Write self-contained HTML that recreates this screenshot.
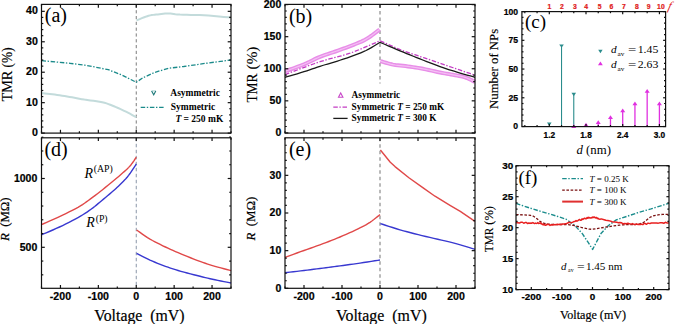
<!DOCTYPE html>
<html><head><meta charset="utf-8"><title>figure</title>
<style>html,body{margin:0;padding:0;background:#fff;width:675px;height:324px;overflow:hidden}svg{display:block}</style>
</head><body>
<svg width="675" height="324" viewBox="0 0 675 324">
<rect width="675" height="324" fill="#fff"/>
<line x1="136.25" y1="4.4" x2="136.25" y2="133.1" stroke="#7c7c7c" stroke-width="1" stroke-dasharray="3.2 2.6"/>
<polyline points="41.5,93.2 42.93,93.34 44.89,93.53 47.23,93.76 49.76,94.01 52.34,94.3 54.8,94.6 57.18,94.93 59.62,95.29 62.11,95.67 64.61,96.07 67.12,96.48 69.6,96.9 72.03,97.33 74.42,97.77 76.81,98.23 79.24,98.69 81.76,99.15 84.4,99.6 87.26,100.02 90.33,100.42 93.49,100.81 96.6,101.23 99.55,101.68 102.2,102.2 104.51,102.78 106.57,103.41 108.46,104.07 110.27,104.78 112.09,105.52 114,106.3 116.01,107.12 118.05,108 120.09,108.91 122.12,109.84 124.1,110.78 126,111.7 127.93,112.67 129.94,113.73 131.9,114.79 133.69,115.77 135.2,116.6 136.3,117.2" fill="none" stroke="#c3dbdb" stroke-width="2.0" stroke-linejoin="round" />
<polyline points="136.5,20.4 137.84,19.86 139.71,19.09 141.92,18.19 144.26,17.27 146.52,16.43 148.5,15.8 150.19,15.38 151.73,15.08 153.21,14.88 154.67,14.72 156.18,14.57 157.8,14.4 159.55,14.18 161.37,13.96 163.24,13.74 165.13,13.56 167.03,13.43 168.9,13.4 170.6,13.48 172.12,13.66 173.64,13.89 175.34,14.16 177.4,14.4 180,14.6 183.22,14.73 186.93,14.81 191.01,14.88 195.3,14.97 199.68,15.1 204,15.3 208.64,15.62 213.78,16.03 219,16.49 223.89,16.94 228.03,17.33 231,17.6" fill="none" stroke="#c3dbdb" stroke-width="2.0" stroke-linejoin="round" />
<polyline points="41.5,60.6 56,62 70,63.3 85,65.2 96.3,67.3 108.3,69.7 121.7,75 129.7,79 136.3,82.3 143,77.7 155,72.3 168.3,68.3 183.7,66.5 205,63.4 231,60" fill="none" stroke="#1a8a8a" stroke-width="1.3" stroke-dasharray="4.5 1.6 1.4 1.7" stroke-linejoin="round" />
<rect x="41.5" y="4.4" width="189.5" height="128.7" fill="none" stroke="#111" stroke-width="1.2"/>
<line x1="41.5" y1="133.1" x2="44.8" y2="133.1" stroke="#111" stroke-width="1.2" />
<line x1="231" y1="133.1" x2="227.7" y2="133.1" stroke="#111" stroke-width="1.2" />
<line x1="41.5" y1="102.66" x2="44.8" y2="102.66" stroke="#111" stroke-width="1.2" />
<line x1="231" y1="102.66" x2="227.7" y2="102.66" stroke="#111" stroke-width="1.2" />
<line x1="41.5" y1="72.22" x2="44.8" y2="72.22" stroke="#111" stroke-width="1.2" />
<line x1="231" y1="72.22" x2="227.7" y2="72.22" stroke="#111" stroke-width="1.2" />
<line x1="41.5" y1="41.78" x2="44.8" y2="41.78" stroke="#111" stroke-width="1.2" />
<line x1="231" y1="41.78" x2="227.7" y2="41.78" stroke="#111" stroke-width="1.2" />
<line x1="41.5" y1="11.34" x2="44.8" y2="11.34" stroke="#111" stroke-width="1.2" />
<line x1="231" y1="11.34" x2="227.7" y2="11.34" stroke="#111" stroke-width="1.2" />
<line x1="41.5" y1="127.01" x2="43.3" y2="127.01" stroke="#111" stroke-width="1.2" />
<line x1="231" y1="127.01" x2="229.2" y2="127.01" stroke="#111" stroke-width="1.2" />
<line x1="41.5" y1="120.92" x2="43.3" y2="120.92" stroke="#111" stroke-width="1.2" />
<line x1="231" y1="120.92" x2="229.2" y2="120.92" stroke="#111" stroke-width="1.2" />
<line x1="41.5" y1="114.84" x2="43.3" y2="114.84" stroke="#111" stroke-width="1.2" />
<line x1="231" y1="114.84" x2="229.2" y2="114.84" stroke="#111" stroke-width="1.2" />
<line x1="41.5" y1="108.75" x2="43.3" y2="108.75" stroke="#111" stroke-width="1.2" />
<line x1="231" y1="108.75" x2="229.2" y2="108.75" stroke="#111" stroke-width="1.2" />
<line x1="41.5" y1="96.57" x2="43.3" y2="96.57" stroke="#111" stroke-width="1.2" />
<line x1="231" y1="96.57" x2="229.2" y2="96.57" stroke="#111" stroke-width="1.2" />
<line x1="41.5" y1="90.48" x2="43.3" y2="90.48" stroke="#111" stroke-width="1.2" />
<line x1="231" y1="90.48" x2="229.2" y2="90.48" stroke="#111" stroke-width="1.2" />
<line x1="41.5" y1="84.4" x2="43.3" y2="84.4" stroke="#111" stroke-width="1.2" />
<line x1="231" y1="84.4" x2="229.2" y2="84.4" stroke="#111" stroke-width="1.2" />
<line x1="41.5" y1="78.31" x2="43.3" y2="78.31" stroke="#111" stroke-width="1.2" />
<line x1="231" y1="78.31" x2="229.2" y2="78.31" stroke="#111" stroke-width="1.2" />
<line x1="41.5" y1="66.13" x2="43.3" y2="66.13" stroke="#111" stroke-width="1.2" />
<line x1="231" y1="66.13" x2="229.2" y2="66.13" stroke="#111" stroke-width="1.2" />
<line x1="41.5" y1="60.04" x2="43.3" y2="60.04" stroke="#111" stroke-width="1.2" />
<line x1="231" y1="60.04" x2="229.2" y2="60.04" stroke="#111" stroke-width="1.2" />
<line x1="41.5" y1="53.96" x2="43.3" y2="53.96" stroke="#111" stroke-width="1.2" />
<line x1="231" y1="53.96" x2="229.2" y2="53.96" stroke="#111" stroke-width="1.2" />
<line x1="41.5" y1="47.87" x2="43.3" y2="47.87" stroke="#111" stroke-width="1.2" />
<line x1="231" y1="47.87" x2="229.2" y2="47.87" stroke="#111" stroke-width="1.2" />
<line x1="41.5" y1="35.69" x2="43.3" y2="35.69" stroke="#111" stroke-width="1.2" />
<line x1="231" y1="35.69" x2="229.2" y2="35.69" stroke="#111" stroke-width="1.2" />
<line x1="41.5" y1="29.6" x2="43.3" y2="29.6" stroke="#111" stroke-width="1.2" />
<line x1="231" y1="29.6" x2="229.2" y2="29.6" stroke="#111" stroke-width="1.2" />
<line x1="41.5" y1="23.52" x2="43.3" y2="23.52" stroke="#111" stroke-width="1.2" />
<line x1="231" y1="23.52" x2="229.2" y2="23.52" stroke="#111" stroke-width="1.2" />
<line x1="41.5" y1="17.43" x2="43.3" y2="17.43" stroke="#111" stroke-width="1.2" />
<line x1="231" y1="17.43" x2="229.2" y2="17.43" stroke="#111" stroke-width="1.2" />
<line x1="60.45" y1="133.1" x2="60.45" y2="129.8" stroke="#111" stroke-width="1.2" />
<line x1="60.45" y1="4.4" x2="60.45" y2="7.7" stroke="#111" stroke-width="1.2" />
<line x1="98.35" y1="133.1" x2="98.35" y2="129.8" stroke="#111" stroke-width="1.2" />
<line x1="98.35" y1="4.4" x2="98.35" y2="7.7" stroke="#111" stroke-width="1.2" />
<line x1="136.25" y1="133.1" x2="136.25" y2="129.8" stroke="#111" stroke-width="1.2" />
<line x1="136.25" y1="4.4" x2="136.25" y2="7.7" stroke="#111" stroke-width="1.2" />
<line x1="174.15" y1="133.1" x2="174.15" y2="129.8" stroke="#111" stroke-width="1.2" />
<line x1="174.15" y1="4.4" x2="174.15" y2="7.7" stroke="#111" stroke-width="1.2" />
<line x1="212.05" y1="133.1" x2="212.05" y2="129.8" stroke="#111" stroke-width="1.2" />
<line x1="212.05" y1="4.4" x2="212.05" y2="7.7" stroke="#111" stroke-width="1.2" />
<line x1="41.5" y1="133.1" x2="41.5" y2="131.2" stroke="#111" stroke-width="1.2" />
<line x1="41.5" y1="4.4" x2="41.5" y2="6.3" stroke="#111" stroke-width="1.2" />
<line x1="79.4" y1="133.1" x2="79.4" y2="131.2" stroke="#111" stroke-width="1.2" />
<line x1="79.4" y1="4.4" x2="79.4" y2="6.3" stroke="#111" stroke-width="1.2" />
<line x1="117.3" y1="133.1" x2="117.3" y2="131.2" stroke="#111" stroke-width="1.2" />
<line x1="117.3" y1="4.4" x2="117.3" y2="6.3" stroke="#111" stroke-width="1.2" />
<line x1="155.2" y1="133.1" x2="155.2" y2="131.2" stroke="#111" stroke-width="1.2" />
<line x1="155.2" y1="4.4" x2="155.2" y2="6.3" stroke="#111" stroke-width="1.2" />
<line x1="193.1" y1="133.1" x2="193.1" y2="131.2" stroke="#111" stroke-width="1.2" />
<line x1="193.1" y1="4.4" x2="193.1" y2="6.3" stroke="#111" stroke-width="1.2" />
<line x1="231" y1="133.1" x2="231" y2="131.2" stroke="#111" stroke-width="1.2" />
<line x1="231" y1="4.4" x2="231" y2="6.3" stroke="#111" stroke-width="1.2" />
<text x="37.8" y="136.2" font-family='"Liberation Sans", sans-serif' font-size="10.6" font-weight="bold" font-style="normal" text-anchor="end" fill="#000" stroke="#000" stroke-width="0.22">0</text>
<text x="37.8" y="105.76" font-family='"Liberation Sans", sans-serif' font-size="10.6" font-weight="bold" font-style="normal" text-anchor="end" fill="#000" stroke="#000" stroke-width="0.22">10</text>
<text x="37.8" y="75.32" font-family='"Liberation Sans", sans-serif' font-size="10.6" font-weight="bold" font-style="normal" text-anchor="end" fill="#000" stroke="#000" stroke-width="0.22">20</text>
<text x="37.8" y="44.88" font-family='"Liberation Sans", sans-serif' font-size="10.6" font-weight="bold" font-style="normal" text-anchor="end" fill="#000" stroke="#000" stroke-width="0.22">30</text>
<text x="37.8" y="14.44" font-family='"Liberation Sans", sans-serif' font-size="10.6" font-weight="bold" font-style="normal" text-anchor="end" fill="#000" stroke="#000" stroke-width="0.22">40</text>
<text x="44.8" y="21.6" font-family='"Liberation Serif", serif' font-size="20" font-weight="normal" font-style="normal" text-anchor="start" fill="#000" >(a)</text>
<text x="0" y="0" transform="translate(11.5,101.6) rotate(-90)" font-family='"Liberation Serif", serif' font-size="14.4" font-weight="normal" textLength="31.0" lengthAdjust="spacingAndGlyphs" fill="#000" stroke="#000" stroke-width="0.15">TMR</text>
<text x="0" y="0" transform="translate(11.5,67.4) rotate(-90)" font-family='"Liberation Serif", serif' font-size="14.4" font-weight="normal" textLength="20.0" lengthAdjust="spacingAndGlyphs" fill="#000" stroke="#000" stroke-width="0.15">(%)</text>
<path d="M151.6,90.9 L155.8,90.9" fill="none" stroke="#8cc4c4" stroke-width="0.8"/>
<path d="M151.6,90.9 L153.7,94.8 L155.8,90.9" fill="none" stroke="#1f7a7a" stroke-width="1.1"/>
<text x="170.3" y="95.8" font-family='"Liberation Serif", serif' font-size="9.5" font-weight="bold" font-style="normal" text-anchor="start" fill="#000" >Asymmetric</text>
<polyline points="140.7,107.4 163.6,107.4" fill="none" stroke="#1a8a8a" stroke-width="1.3" stroke-dasharray="4.5 1.6 1.4 1.7" stroke-linejoin="round" />
<text x="170.8" y="109.7" font-family='"Liberation Serif", serif' font-size="9.5" font-weight="bold" font-style="normal" text-anchor="start" fill="#000" >Symmetric</text>
<text x="175.4" y="121.6" font-family='"Liberation Serif", serif' font-size="9.5" font-weight="bold" fill="#000"><tspan font-style="italic">T</tspan> = 250 mK</text>
<line x1="136.25" y1="137.8" x2="136.25" y2="288.3" stroke="#8a96a8" stroke-width="1" stroke-dasharray="3.5 2.5"/>
<polyline points="41.5,224.6 43.45,223.74 46.15,222.57 49.34,221.18 52.8,219.66 56.26,218.1 59.5,216.6 62.62,215.11 65.85,213.56 69.09,211.97 72.26,210.38 75.26,208.81 78,207.3 80.4,205.88 82.52,204.55 84.48,203.24 86.38,201.9 88.35,200.47 90.5,198.9 92.84,197.18 95.27,195.35 97.76,193.43 100.3,191.45 102.85,189.43 105.4,187.4 108.02,185.28 110.76,183.04 113.51,180.76 116.19,178.53 118.68,176.41 120.9,174.5 122.82,172.83 124.51,171.35 126.03,169.99 127.41,168.69 128.72,167.38 130,166 131.28,164.45 132.54,162.76 133.72,161.07 134.77,159.49 135.65,158.16 136.3,157.2" fill="none" stroke="#e04848" stroke-width="1.4" stroke-linejoin="round" />
<polyline points="41.5,234.8 43.45,233.97 46.15,232.84 49.34,231.49 52.8,230.01 56.26,228.48 59.5,227 62.62,225.51 65.83,223.94 69.06,222.33 72.22,220.71 75.23,219.12 78,217.6 80.51,216.16 82.83,214.76 84.99,213.4 87.05,212.05 89.04,210.69 91,209.3 92.9,207.9 94.68,206.5 96.39,205.09 98.09,203.66 99.81,202.2 101.6,200.7 103.51,199.12 105.5,197.46 107.53,195.76 109.51,194.09 111.39,192.48 113.1,191 114.62,189.67 115.98,188.46 117.24,187.32 118.44,186.2 119.65,185.04 120.9,183.8 122.19,182.5 123.47,181.2 124.76,179.86 126.04,178.47 127.32,176.99 128.6,175.4 129.97,173.54 131.45,171.4 132.93,169.17 134.3,167.07 135.46,165.28 136.3,164" fill="none" stroke="#3838d0" stroke-width="1.4" stroke-linejoin="round" />
<polyline points="136.6,230 138.03,231 140,232.4 142.34,234.06 144.89,235.82 147.5,237.55 150,239.1 152.45,240.5 154.98,241.86 157.57,243.19 160.19,244.49 162.8,245.76 165.4,247 167.94,248.2 170.43,249.35 172.92,250.47 175.46,251.59 178.11,252.73 180.9,253.9 183.92,255.15 187.15,256.45 190.48,257.77 193.8,259.07 197.01,260.29 200,261.4 202.73,262.37 205.27,263.25 207.69,264.05 210.08,264.81 212.49,265.55 215,266.3 217.79,267.1 220.85,267.94 223.94,268.76 226.81,269.51 229.25,270.14 231,270.6" fill="none" stroke="#e04848" stroke-width="1.4" stroke-linejoin="round" />
<polyline points="136.6,253.3 138.03,254.05 140,255.09 142.34,256.31 144.89,257.63 147.5,258.92 150,260.1 152.45,261.18 154.98,262.26 157.57,263.31 160.19,264.34 162.8,265.34 165.4,266.3 167.94,267.2 170.43,268.06 172.92,268.88 175.46,269.68 178.11,270.48 180.9,271.3 183.92,272.15 187.15,273.02 190.48,273.89 193.8,274.74 197.01,275.55 200,276.3 202.73,276.97 205.27,277.59 207.69,278.16 210.08,278.71 212.49,279.25 215,279.8 217.79,280.39 220.85,281.01 223.94,281.62 226.81,282.18 229.25,282.66 231,283" fill="none" stroke="#3838d0" stroke-width="1.4" stroke-linejoin="round" />
<rect x="41.5" y="137.8" width="189.5" height="150.5" fill="none" stroke="#111" stroke-width="1.2"/>
<line x1="41.5" y1="247.3" x2="44.8" y2="247.3" stroke="#111" stroke-width="1.2" />
<line x1="231" y1="247.3" x2="227.7" y2="247.3" stroke="#111" stroke-width="1.2" />
<line x1="41.5" y1="178.5" x2="44.8" y2="178.5" stroke="#111" stroke-width="1.2" />
<line x1="231" y1="178.5" x2="227.7" y2="178.5" stroke="#111" stroke-width="1.2" />
<line x1="41.5" y1="274.82" x2="43.3" y2="274.82" stroke="#111" stroke-width="1.2" />
<line x1="231" y1="274.82" x2="229.2" y2="274.82" stroke="#111" stroke-width="1.2" />
<line x1="41.5" y1="261.06" x2="43.3" y2="261.06" stroke="#111" stroke-width="1.2" />
<line x1="231" y1="261.06" x2="229.2" y2="261.06" stroke="#111" stroke-width="1.2" />
<line x1="41.5" y1="233.54" x2="43.3" y2="233.54" stroke="#111" stroke-width="1.2" />
<line x1="231" y1="233.54" x2="229.2" y2="233.54" stroke="#111" stroke-width="1.2" />
<line x1="41.5" y1="219.78" x2="43.3" y2="219.78" stroke="#111" stroke-width="1.2" />
<line x1="231" y1="219.78" x2="229.2" y2="219.78" stroke="#111" stroke-width="1.2" />
<line x1="41.5" y1="206.02" x2="43.3" y2="206.02" stroke="#111" stroke-width="1.2" />
<line x1="231" y1="206.02" x2="229.2" y2="206.02" stroke="#111" stroke-width="1.2" />
<line x1="41.5" y1="192.26" x2="43.3" y2="192.26" stroke="#111" stroke-width="1.2" />
<line x1="231" y1="192.26" x2="229.2" y2="192.26" stroke="#111" stroke-width="1.2" />
<line x1="41.5" y1="164.74" x2="43.3" y2="164.74" stroke="#111" stroke-width="1.2" />
<line x1="231" y1="164.74" x2="229.2" y2="164.74" stroke="#111" stroke-width="1.2" />
<line x1="41.5" y1="150.98" x2="43.3" y2="150.98" stroke="#111" stroke-width="1.2" />
<line x1="231" y1="150.98" x2="229.2" y2="150.98" stroke="#111" stroke-width="1.2" />
<line x1="41.5" y1="137.22" x2="43.3" y2="137.22" stroke="#111" stroke-width="1.2" />
<line x1="231" y1="137.22" x2="229.2" y2="137.22" stroke="#111" stroke-width="1.2" />
<line x1="60.45" y1="288.3" x2="60.45" y2="285" stroke="#111" stroke-width="1.2" />
<line x1="60.45" y1="137.8" x2="60.45" y2="141.1" stroke="#111" stroke-width="1.2" />
<line x1="98.35" y1="288.3" x2="98.35" y2="285" stroke="#111" stroke-width="1.2" />
<line x1="98.35" y1="137.8" x2="98.35" y2="141.1" stroke="#111" stroke-width="1.2" />
<line x1="136.25" y1="288.3" x2="136.25" y2="285" stroke="#111" stroke-width="1.2" />
<line x1="136.25" y1="137.8" x2="136.25" y2="141.1" stroke="#111" stroke-width="1.2" />
<line x1="174.15" y1="288.3" x2="174.15" y2="285" stroke="#111" stroke-width="1.2" />
<line x1="174.15" y1="137.8" x2="174.15" y2="141.1" stroke="#111" stroke-width="1.2" />
<line x1="212.05" y1="288.3" x2="212.05" y2="285" stroke="#111" stroke-width="1.2" />
<line x1="212.05" y1="137.8" x2="212.05" y2="141.1" stroke="#111" stroke-width="1.2" />
<line x1="41.5" y1="288.3" x2="41.5" y2="286.4" stroke="#111" stroke-width="1.2" />
<line x1="41.5" y1="137.8" x2="41.5" y2="139.7" stroke="#111" stroke-width="1.2" />
<line x1="79.4" y1="288.3" x2="79.4" y2="286.4" stroke="#111" stroke-width="1.2" />
<line x1="79.4" y1="137.8" x2="79.4" y2="139.7" stroke="#111" stroke-width="1.2" />
<line x1="117.3" y1="288.3" x2="117.3" y2="286.4" stroke="#111" stroke-width="1.2" />
<line x1="117.3" y1="137.8" x2="117.3" y2="139.7" stroke="#111" stroke-width="1.2" />
<line x1="155.2" y1="288.3" x2="155.2" y2="286.4" stroke="#111" stroke-width="1.2" />
<line x1="155.2" y1="137.8" x2="155.2" y2="139.7" stroke="#111" stroke-width="1.2" />
<line x1="193.1" y1="288.3" x2="193.1" y2="286.4" stroke="#111" stroke-width="1.2" />
<line x1="193.1" y1="137.8" x2="193.1" y2="139.7" stroke="#111" stroke-width="1.2" />
<line x1="231" y1="288.3" x2="231" y2="286.4" stroke="#111" stroke-width="1.2" />
<line x1="231" y1="137.8" x2="231" y2="139.7" stroke="#111" stroke-width="1.2" />
<text x="37.3" y="181.8" font-family='"Liberation Sans", sans-serif' font-size="10.5" font-weight="bold" font-style="normal" text-anchor="end" fill="#000" stroke="#000" stroke-width="0.22">1000</text>
<text x="37.3" y="250.6" font-family='"Liberation Sans", sans-serif' font-size="10.5" font-weight="bold" font-style="normal" text-anchor="end" fill="#000" stroke="#000" stroke-width="0.22">500</text>
<text x="60.45" y="299.9" font-family='"Liberation Sans", sans-serif' font-size="10.6" font-weight="bold" font-style="normal" text-anchor="middle" fill="#000" stroke="#000" stroke-width="0.22">-200</text>
<text x="98.35" y="299.9" font-family='"Liberation Sans", sans-serif' font-size="10.6" font-weight="bold" font-style="normal" text-anchor="middle" fill="#000" stroke="#000" stroke-width="0.22">-100</text>
<text x="136.25" y="299.9" font-family='"Liberation Sans", sans-serif' font-size="10.6" font-weight="bold" font-style="normal" text-anchor="middle" fill="#000" stroke="#000" stroke-width="0.22">0</text>
<text x="174.15" y="299.9" font-family='"Liberation Sans", sans-serif' font-size="10.6" font-weight="bold" font-style="normal" text-anchor="middle" fill="#000" stroke="#000" stroke-width="0.22">100</text>
<text x="212.05" y="299.9" font-family='"Liberation Sans", sans-serif' font-size="10.6" font-weight="bold" font-style="normal" text-anchor="middle" fill="#000" stroke="#000" stroke-width="0.22">200</text>
<text x="44.4" y="156.4" font-family='"Liberation Serif", serif' font-size="20" font-weight="normal" font-style="normal" text-anchor="start" fill="#000" >(d)</text>
<text x="84.4" y="177.8" font-family='"Liberation Serif", serif' font-size="14" fill="#000"><tspan font-style="italic">R</tspan><tspan font-size="9.8" dx="0.8" dy="-5.6">(AP)</tspan></text>
<text x="86.3" y="227.2" font-family='"Liberation Serif", serif' font-size="14" fill="#000"><tspan font-style="italic">R</tspan><tspan font-size="9.8" dx="0.8" dy="-5.6">(P)</tspan></text>
<text x="0" y="0" transform="translate(5.2,219.2) rotate(-90)" font-family='"Liberation Serif", serif' font-size="12.8" text-anchor="middle" dominant-baseline="central" fill="#000" stroke="#000" stroke-width="0.2"><tspan font-style="italic">R</tspan>&#160;&#160;(M&#937;)</text>
<text x="139.4" y="320.9" font-family='"Liberation Serif", serif' font-size="15.8" font-weight="normal" font-style="normal" text-anchor="middle" fill="#000" stroke="#000" stroke-width="0.2">Voltage&#160;&#160;(mV)</text>
<line x1="380" y1="4.4" x2="380" y2="133.1" stroke="#a8a8a8" stroke-width="1.6" stroke-dasharray="3.5 3"/>
<rect x="330" y="83.5" width="118" height="48.8" fill="#fff"/>
<polyline points="285,71.3 287.1,70.54 290.04,69.5 293.5,68.27 297.19,66.93 300.79,65.58 304,64.3 306.85,63.05 309.58,61.76 312.22,60.44 314.82,59.16 317.4,57.93 320,56.8 322.6,55.79 325.17,54.89 327.73,54.04 330.28,53.21 332.83,52.38 335.4,51.5 337.98,50.58 340.56,49.67 343.15,48.74 345.74,47.79 348.32,46.81 350.9,45.8 353.5,44.77 356.12,43.75 358.74,42.69 361.33,41.59 363.86,40.4 366.3,39.1 368.79,37.56 371.38,35.76 373.91,33.88 376.23,32.1 378.18,30.58 379.6,29.5" fill="none" stroke="#e88ee8" stroke-width="4.0" stroke-linejoin="round" />
<polyline points="285,71.3 287.1,70.54 290.04,69.5 293.5,68.27 297.19,66.93 300.79,65.58 304,64.3 306.85,63.05 309.58,61.76 312.22,60.44 314.82,59.16 317.4,57.93 320,56.8 322.6,55.79 325.17,54.89 327.73,54.04 330.28,53.21 332.83,52.38 335.4,51.5 337.98,50.58 340.56,49.67 343.15,48.74 345.74,47.79 348.32,46.81 350.9,45.8 353.5,44.77 356.12,43.75 358.74,42.69 361.33,41.59 363.86,40.4 366.3,39.1 368.79,37.56 371.38,35.76 373.91,33.88 376.23,32.1 378.18,30.58 379.6,29.5" fill="none" stroke="#f4c0f4" stroke-width="1.2" stroke-linejoin="round" />
<polyline points="380.4,61.1 381.74,61.5 383.58,62.07 385.76,62.74 388.16,63.43 390.62,64.07 393,64.6 395.36,64.99 397.82,65.3 400.35,65.57 402.91,65.82 405.47,66.08 408,66.4 410.48,66.75 412.93,67.11 415.38,67.48 417.85,67.88 420.38,68.32 423,68.8 425.76,69.36 428.67,69.99 431.62,70.66 434.56,71.32 437.38,71.95 440,72.5 442.41,72.96 444.67,73.36 446.81,73.72 448.89,74.07 450.94,74.42 453,74.8 455.08,75.18 457.15,75.54 459.19,75.91 461.19,76.3 463.13,76.76 465,77.3 466.9,78 468.85,78.85 470.75,79.76 472.48,80.63 473.94,81.38 475,81.9" fill="none" stroke="#e88ee8" stroke-width="4.0" stroke-linejoin="round" />
<polyline points="380.4,61.1 381.74,61.5 383.58,62.07 385.76,62.74 388.16,63.43 390.62,64.07 393,64.6 395.36,64.99 397.82,65.3 400.35,65.57 402.91,65.82 405.47,66.08 408,66.4 410.48,66.75 412.93,67.11 415.38,67.48 417.85,67.88 420.38,68.32 423,68.8 425.76,69.36 428.67,69.99 431.62,70.66 434.56,71.32 437.38,71.95 440,72.5 442.41,72.96 444.67,73.36 446.81,73.72 448.89,74.07 450.94,74.42 453,74.8 455.08,75.18 457.15,75.54 459.19,75.91 461.19,76.3 463.13,76.76 465,77.3 466.9,78 468.85,78.85 470.75,79.76 472.48,80.63 473.94,81.38 475,81.9" fill="none" stroke="#f4c0f4" stroke-width="1.2" stroke-linejoin="round" />
<polyline points="285,74.6 288.87,73.15 294.26,71.09 300.62,68.68 307.41,66.15 314.05,63.74 320,61.7 325.29,60.07 330.37,58.69 335.31,57.42 340.19,56.16 345.06,54.79 350,53.2 355.35,51.22 361.11,48.9 366.88,46.47 372.22,44.16 376.74,42.19 380,40.8 382.43,41.87 385.81,43.37 389.81,45.14 394.07,47 398.25,48.78 402,50.3 405.33,51.55 408.52,52.68 411.62,53.72 414.7,54.72 417.81,55.73 421,56.8 424.31,57.93 427.7,59.08 431.12,60.24 434.52,61.4 437.83,62.52 441,63.6 444.01,64.62 446.89,65.61 449.69,66.56 452.44,67.5 455.2,68.44 458,69.4 461.03,70.43 464.3,71.55 467.56,72.66 470.59,73.7 473.15,74.57 475,75.2" fill="none" stroke="#c43cc4" stroke-width="1.3" stroke-dasharray="4.5 1.6 1.4 1.7" stroke-linejoin="round" />
<polyline points="285,77.3 287.1,76.69 290.04,75.84 293.5,74.84 297.19,73.76 300.79,72.69 304,71.7 306.85,70.78 309.59,69.85 312.25,68.93 314.85,68.03 317.43,67.15 320,66.3 322.56,65.5 325.07,64.75 327.56,64.02 330.04,63.3 332.51,62.56 335,61.8 337.49,61.02 339.96,60.25 342.44,59.47 344.93,58.66 347.44,57.81 350,56.9 352.63,55.94 355.33,54.94 358.06,53.91 360.78,52.82 363.44,51.69 366,50.5 368.61,49.14 371.33,47.6 374,46 376.44,44.49 378.5,43.21 380,42.3 382.18,43.23 385.19,44.52 388.75,46.04 392.59,47.68 396.44,49.31 400,50.8 403.33,52.18 406.67,53.54 410,54.9 413.33,56.24 416.67,57.58 420,58.9 423.37,60.23 426.78,61.58 430.19,62.91 433.56,64.21 436.84,65.45 440,66.6 443,67.65 445.85,68.61 448.62,69.51 451.37,70.37 454.14,71.23 457,72.1 460.15,73.04 463.59,74.05 467.06,75.04 470.3,75.96 473.03,76.74 475,77.3" fill="none" stroke="#1a1a1a" stroke-width="1.3" stroke-linejoin="round" />
<rect x="285" y="4.4" width="190" height="128.7" fill="none" stroke="#111" stroke-width="1.2"/>
<line x1="285" y1="132.9" x2="288.3" y2="132.9" stroke="#111" stroke-width="1.2" />
<line x1="475" y1="132.9" x2="471.7" y2="132.9" stroke="#111" stroke-width="1.2" />
<line x1="285" y1="100.83" x2="288.3" y2="100.83" stroke="#111" stroke-width="1.2" />
<line x1="475" y1="100.83" x2="471.7" y2="100.83" stroke="#111" stroke-width="1.2" />
<line x1="285" y1="68.75" x2="288.3" y2="68.75" stroke="#111" stroke-width="1.2" />
<line x1="475" y1="68.75" x2="471.7" y2="68.75" stroke="#111" stroke-width="1.2" />
<line x1="285" y1="36.68" x2="288.3" y2="36.68" stroke="#111" stroke-width="1.2" />
<line x1="475" y1="36.68" x2="471.7" y2="36.68" stroke="#111" stroke-width="1.2" />
<line x1="285" y1="4.6" x2="288.3" y2="4.6" stroke="#111" stroke-width="1.2" />
<line x1="475" y1="4.6" x2="471.7" y2="4.6" stroke="#111" stroke-width="1.2" />
<line x1="285" y1="126.49" x2="286.8" y2="126.49" stroke="#111" stroke-width="1.2" />
<line x1="475" y1="126.49" x2="473.2" y2="126.49" stroke="#111" stroke-width="1.2" />
<line x1="285" y1="120.07" x2="286.8" y2="120.07" stroke="#111" stroke-width="1.2" />
<line x1="475" y1="120.07" x2="473.2" y2="120.07" stroke="#111" stroke-width="1.2" />
<line x1="285" y1="113.66" x2="286.8" y2="113.66" stroke="#111" stroke-width="1.2" />
<line x1="475" y1="113.66" x2="473.2" y2="113.66" stroke="#111" stroke-width="1.2" />
<line x1="285" y1="107.24" x2="286.8" y2="107.24" stroke="#111" stroke-width="1.2" />
<line x1="475" y1="107.24" x2="473.2" y2="107.24" stroke="#111" stroke-width="1.2" />
<line x1="285" y1="94.41" x2="286.8" y2="94.41" stroke="#111" stroke-width="1.2" />
<line x1="475" y1="94.41" x2="473.2" y2="94.41" stroke="#111" stroke-width="1.2" />
<line x1="285" y1="88" x2="286.8" y2="88" stroke="#111" stroke-width="1.2" />
<line x1="475" y1="88" x2="473.2" y2="88" stroke="#111" stroke-width="1.2" />
<line x1="285" y1="81.58" x2="286.8" y2="81.58" stroke="#111" stroke-width="1.2" />
<line x1="475" y1="81.58" x2="473.2" y2="81.58" stroke="#111" stroke-width="1.2" />
<line x1="285" y1="75.17" x2="286.8" y2="75.17" stroke="#111" stroke-width="1.2" />
<line x1="475" y1="75.17" x2="473.2" y2="75.17" stroke="#111" stroke-width="1.2" />
<line x1="285" y1="62.34" x2="286.8" y2="62.34" stroke="#111" stroke-width="1.2" />
<line x1="475" y1="62.34" x2="473.2" y2="62.34" stroke="#111" stroke-width="1.2" />
<line x1="285" y1="55.92" x2="286.8" y2="55.92" stroke="#111" stroke-width="1.2" />
<line x1="475" y1="55.92" x2="473.2" y2="55.92" stroke="#111" stroke-width="1.2" />
<line x1="285" y1="49.51" x2="286.8" y2="49.51" stroke="#111" stroke-width="1.2" />
<line x1="475" y1="49.51" x2="473.2" y2="49.51" stroke="#111" stroke-width="1.2" />
<line x1="285" y1="43.09" x2="286.8" y2="43.09" stroke="#111" stroke-width="1.2" />
<line x1="475" y1="43.09" x2="473.2" y2="43.09" stroke="#111" stroke-width="1.2" />
<line x1="285" y1="30.26" x2="286.8" y2="30.26" stroke="#111" stroke-width="1.2" />
<line x1="475" y1="30.26" x2="473.2" y2="30.26" stroke="#111" stroke-width="1.2" />
<line x1="285" y1="23.85" x2="286.8" y2="23.85" stroke="#111" stroke-width="1.2" />
<line x1="475" y1="23.85" x2="473.2" y2="23.85" stroke="#111" stroke-width="1.2" />
<line x1="285" y1="17.43" x2="286.8" y2="17.43" stroke="#111" stroke-width="1.2" />
<line x1="475" y1="17.43" x2="473.2" y2="17.43" stroke="#111" stroke-width="1.2" />
<line x1="285" y1="11.02" x2="286.8" y2="11.02" stroke="#111" stroke-width="1.2" />
<line x1="475" y1="11.02" x2="473.2" y2="11.02" stroke="#111" stroke-width="1.2" />
<line x1="304" y1="133.1" x2="304" y2="129.8" stroke="#111" stroke-width="1.2" />
<line x1="304" y1="4.4" x2="304" y2="7.7" stroke="#111" stroke-width="1.2" />
<line x1="342" y1="133.1" x2="342" y2="129.8" stroke="#111" stroke-width="1.2" />
<line x1="342" y1="4.4" x2="342" y2="7.7" stroke="#111" stroke-width="1.2" />
<line x1="380" y1="133.1" x2="380" y2="129.8" stroke="#111" stroke-width="1.2" />
<line x1="380" y1="4.4" x2="380" y2="7.7" stroke="#111" stroke-width="1.2" />
<line x1="418" y1="133.1" x2="418" y2="129.8" stroke="#111" stroke-width="1.2" />
<line x1="418" y1="4.4" x2="418" y2="7.7" stroke="#111" stroke-width="1.2" />
<line x1="456" y1="133.1" x2="456" y2="129.8" stroke="#111" stroke-width="1.2" />
<line x1="456" y1="4.4" x2="456" y2="7.7" stroke="#111" stroke-width="1.2" />
<line x1="285" y1="133.1" x2="285" y2="131.2" stroke="#111" stroke-width="1.2" />
<line x1="285" y1="4.4" x2="285" y2="6.3" stroke="#111" stroke-width="1.2" />
<line x1="323" y1="133.1" x2="323" y2="131.2" stroke="#111" stroke-width="1.2" />
<line x1="323" y1="4.4" x2="323" y2="6.3" stroke="#111" stroke-width="1.2" />
<line x1="361" y1="133.1" x2="361" y2="131.2" stroke="#111" stroke-width="1.2" />
<line x1="361" y1="4.4" x2="361" y2="6.3" stroke="#111" stroke-width="1.2" />
<line x1="399" y1="133.1" x2="399" y2="131.2" stroke="#111" stroke-width="1.2" />
<line x1="399" y1="4.4" x2="399" y2="6.3" stroke="#111" stroke-width="1.2" />
<line x1="437" y1="133.1" x2="437" y2="131.2" stroke="#111" stroke-width="1.2" />
<line x1="437" y1="4.4" x2="437" y2="6.3" stroke="#111" stroke-width="1.2" />
<line x1="475" y1="133.1" x2="475" y2="131.2" stroke="#111" stroke-width="1.2" />
<line x1="475" y1="4.4" x2="475" y2="6.3" stroke="#111" stroke-width="1.2" />
<text x="281.3" y="136.3" font-family='"Liberation Sans", sans-serif' font-size="10.5" font-weight="bold" font-style="normal" text-anchor="end" fill="#000" stroke="#000" stroke-width="0.22">0</text>
<text x="281.3" y="104.23" font-family='"Liberation Sans", sans-serif' font-size="10.5" font-weight="bold" font-style="normal" text-anchor="end" fill="#000" stroke="#000" stroke-width="0.22">50</text>
<text x="281.3" y="72.15" font-family='"Liberation Sans", sans-serif' font-size="10.5" font-weight="bold" font-style="normal" text-anchor="end" fill="#000" stroke="#000" stroke-width="0.22">100</text>
<text x="281.3" y="40.08" font-family='"Liberation Sans", sans-serif' font-size="10.5" font-weight="bold" font-style="normal" text-anchor="end" fill="#000" stroke="#000" stroke-width="0.22">150</text>
<text x="281.3" y="8" font-family='"Liberation Sans", sans-serif' font-size="10.5" font-weight="bold" font-style="normal" text-anchor="end" fill="#000" stroke="#000" stroke-width="0.22">200</text>
<text x="288.9" y="23.2" font-family='"Liberation Serif", serif' font-size="20" font-weight="normal" font-style="normal" text-anchor="start" fill="#000" >(b)</text>
<text x="0" y="0" transform="translate(256.8,102.6) rotate(-90)" font-family='"Liberation Serif", serif' font-size="13.6" font-weight="normal" textLength="29.1" lengthAdjust="spacingAndGlyphs" fill="#000" stroke="#000" stroke-width="0.15">TMR</text>
<text x="0" y="0" transform="translate(256.8,69.4) rotate(-90)" font-family='"Liberation Serif", serif' font-size="13.6" font-weight="normal" textLength="22.8" lengthAdjust="spacingAndGlyphs" fill="#000" stroke="#000" stroke-width="0.15">(%)</text>
<path d="M338.5,97.2 L342.9,97.2 L340.7,93 Z" fill="none" stroke="#c848c8" stroke-width="1.1"/>
<text x="351.6" y="97.8" font-family='"Liberation Serif", serif' font-size="9.3" font-weight="bold" font-style="normal" text-anchor="start" fill="#000" >Asymmetric</text>
<polyline points="333.3,107.2 347.6,107.2" fill="none" stroke="#c43cc4" stroke-width="1.3" stroke-dasharray="4.5 1.6 1.4 1.7" stroke-linejoin="round" />
<text x="351.6" y="109.5" font-family='"Liberation Serif", serif' font-size="9.3" font-weight="bold" fill="#000">Symmetric <tspan font-style="italic">T</tspan> = 250 mK</text>
<polyline points="333.3,118.4 347.6,118.4" fill="none" stroke="#1a1a1a" stroke-width="1.3" stroke-linejoin="round" />
<text x="351.6" y="121.1" font-family='"Liberation Serif", serif' font-size="9.3" font-weight="bold" fill="#000">Symmetric <tspan font-style="italic">T</tspan> = 300 K</text>
<line x1="380" y1="137.8" x2="380" y2="288.3" stroke="#a8a8a8" stroke-width="1.6" stroke-dasharray="3.5 3"/>
<polyline points="285,257.3 287.07,256.56 289.93,255.54 293.31,254.33 296.96,253.02 300.61,251.71 304,250.5 307.19,249.37 310.41,248.23 313.62,247.09 316.81,245.96 319.95,244.83 323,243.7 325.94,242.59 328.78,241.51 331.56,240.43 334.33,239.33 337.13,238.2 340,237 343.01,235.71 346.15,234.35 349.31,232.94 352.41,231.54 355.34,230.18 358,228.9 360.37,227.73 362.52,226.63 364.5,225.58 366.37,224.53 368.19,223.45 370,222.3 371.9,220.99 373.85,219.53 375.75,218.04 377.48,216.64 378.94,215.45 380,214.6" fill="none" stroke="#e04848" stroke-width="1.4" stroke-linejoin="round" />
<polyline points="285,272.7 287.07,272.46 289.93,272.14 293.31,271.75 296.96,271.33 300.61,270.9 304,270.5 307.19,270.11 310.41,269.71 313.62,269.3 316.81,268.89 319.95,268.49 323,268.1 325.91,267.73 328.7,267.37 331.44,267.03 334.19,266.67 337.02,266.3 340,265.9 343.16,265.47 346.44,265.02 349.81,264.56 353.22,264.08 356.63,263.59 360,263.1 363.56,262.56 367.41,261.97 371.25,261.38 374.81,260.81 377.82,260.34 380,260" fill="none" stroke="#3838d0" stroke-width="1.4" stroke-linejoin="round" />
<polyline points="380.4,150 390.3,162.2 395,166.6 408.9,177.7 422.8,187.6 435,196.2 450,205.3 460.3,211.3 475,221.3" fill="none" stroke="#e04848" stroke-width="1.4" stroke-linejoin="round" />
<polyline points="380.4,223.6 382.5,224.28 385.39,225.22 388.82,226.34 392.56,227.53 396.37,228.72 400,229.8 403.52,230.8 407.12,231.78 410.79,232.76 414.5,233.72 418.25,234.67 422,235.6 425.84,236.52 429.81,237.44 433.81,238.34 437.74,239.22 441.5,240.07 445,240.9 448.23,241.69 451.26,242.44 454.12,243.18 456.85,243.89 459.47,244.59 462,245.3 464.55,246.05 467.11,246.84 469.56,247.63 471.78,248.35 473.63,248.96 475,249.4" fill="none" stroke="#3838d0" stroke-width="1.4" stroke-linejoin="round" />
<rect x="285" y="137.8" width="190" height="150.5" fill="none" stroke="#111" stroke-width="1.2"/>
<line x1="285" y1="288.3" x2="288.3" y2="288.3" stroke="#111" stroke-width="1.2" />
<line x1="475" y1="288.3" x2="471.7" y2="288.3" stroke="#111" stroke-width="1.2" />
<line x1="285" y1="250.65" x2="288.3" y2="250.65" stroke="#111" stroke-width="1.2" />
<line x1="475" y1="250.65" x2="471.7" y2="250.65" stroke="#111" stroke-width="1.2" />
<line x1="285" y1="213" x2="288.3" y2="213" stroke="#111" stroke-width="1.2" />
<line x1="475" y1="213" x2="471.7" y2="213" stroke="#111" stroke-width="1.2" />
<line x1="285" y1="175.35" x2="288.3" y2="175.35" stroke="#111" stroke-width="1.2" />
<line x1="475" y1="175.35" x2="471.7" y2="175.35" stroke="#111" stroke-width="1.2" />
<line x1="285" y1="280.77" x2="286.8" y2="280.77" stroke="#111" stroke-width="1.2" />
<line x1="475" y1="280.77" x2="473.2" y2="280.77" stroke="#111" stroke-width="1.2" />
<line x1="285" y1="273.24" x2="286.8" y2="273.24" stroke="#111" stroke-width="1.2" />
<line x1="475" y1="273.24" x2="473.2" y2="273.24" stroke="#111" stroke-width="1.2" />
<line x1="285" y1="265.71" x2="286.8" y2="265.71" stroke="#111" stroke-width="1.2" />
<line x1="475" y1="265.71" x2="473.2" y2="265.71" stroke="#111" stroke-width="1.2" />
<line x1="285" y1="258.18" x2="286.8" y2="258.18" stroke="#111" stroke-width="1.2" />
<line x1="475" y1="258.18" x2="473.2" y2="258.18" stroke="#111" stroke-width="1.2" />
<line x1="285" y1="243.12" x2="286.8" y2="243.12" stroke="#111" stroke-width="1.2" />
<line x1="475" y1="243.12" x2="473.2" y2="243.12" stroke="#111" stroke-width="1.2" />
<line x1="285" y1="235.59" x2="286.8" y2="235.59" stroke="#111" stroke-width="1.2" />
<line x1="475" y1="235.59" x2="473.2" y2="235.59" stroke="#111" stroke-width="1.2" />
<line x1="285" y1="228.06" x2="286.8" y2="228.06" stroke="#111" stroke-width="1.2" />
<line x1="475" y1="228.06" x2="473.2" y2="228.06" stroke="#111" stroke-width="1.2" />
<line x1="285" y1="220.53" x2="286.8" y2="220.53" stroke="#111" stroke-width="1.2" />
<line x1="475" y1="220.53" x2="473.2" y2="220.53" stroke="#111" stroke-width="1.2" />
<line x1="285" y1="205.47" x2="286.8" y2="205.47" stroke="#111" stroke-width="1.2" />
<line x1="475" y1="205.47" x2="473.2" y2="205.47" stroke="#111" stroke-width="1.2" />
<line x1="285" y1="197.94" x2="286.8" y2="197.94" stroke="#111" stroke-width="1.2" />
<line x1="475" y1="197.94" x2="473.2" y2="197.94" stroke="#111" stroke-width="1.2" />
<line x1="285" y1="190.41" x2="286.8" y2="190.41" stroke="#111" stroke-width="1.2" />
<line x1="475" y1="190.41" x2="473.2" y2="190.41" stroke="#111" stroke-width="1.2" />
<line x1="285" y1="182.88" x2="286.8" y2="182.88" stroke="#111" stroke-width="1.2" />
<line x1="475" y1="182.88" x2="473.2" y2="182.88" stroke="#111" stroke-width="1.2" />
<line x1="285" y1="167.82" x2="286.8" y2="167.82" stroke="#111" stroke-width="1.2" />
<line x1="475" y1="167.82" x2="473.2" y2="167.82" stroke="#111" stroke-width="1.2" />
<line x1="285" y1="160.29" x2="286.8" y2="160.29" stroke="#111" stroke-width="1.2" />
<line x1="475" y1="160.29" x2="473.2" y2="160.29" stroke="#111" stroke-width="1.2" />
<line x1="285" y1="152.76" x2="286.8" y2="152.76" stroke="#111" stroke-width="1.2" />
<line x1="475" y1="152.76" x2="473.2" y2="152.76" stroke="#111" stroke-width="1.2" />
<line x1="285" y1="145.23" x2="286.8" y2="145.23" stroke="#111" stroke-width="1.2" />
<line x1="475" y1="145.23" x2="473.2" y2="145.23" stroke="#111" stroke-width="1.2" />
<line x1="304" y1="288.3" x2="304" y2="285" stroke="#111" stroke-width="1.2" />
<line x1="304" y1="137.8" x2="304" y2="141.1" stroke="#111" stroke-width="1.2" />
<line x1="342" y1="288.3" x2="342" y2="285" stroke="#111" stroke-width="1.2" />
<line x1="342" y1="137.8" x2="342" y2="141.1" stroke="#111" stroke-width="1.2" />
<line x1="380" y1="288.3" x2="380" y2="285" stroke="#111" stroke-width="1.2" />
<line x1="380" y1="137.8" x2="380" y2="141.1" stroke="#111" stroke-width="1.2" />
<line x1="418" y1="288.3" x2="418" y2="285" stroke="#111" stroke-width="1.2" />
<line x1="418" y1="137.8" x2="418" y2="141.1" stroke="#111" stroke-width="1.2" />
<line x1="456" y1="288.3" x2="456" y2="285" stroke="#111" stroke-width="1.2" />
<line x1="456" y1="137.8" x2="456" y2="141.1" stroke="#111" stroke-width="1.2" />
<line x1="285" y1="288.3" x2="285" y2="286.4" stroke="#111" stroke-width="1.2" />
<line x1="285" y1="137.8" x2="285" y2="139.7" stroke="#111" stroke-width="1.2" />
<line x1="323" y1="288.3" x2="323" y2="286.4" stroke="#111" stroke-width="1.2" />
<line x1="323" y1="137.8" x2="323" y2="139.7" stroke="#111" stroke-width="1.2" />
<line x1="361" y1="288.3" x2="361" y2="286.4" stroke="#111" stroke-width="1.2" />
<line x1="361" y1="137.8" x2="361" y2="139.7" stroke="#111" stroke-width="1.2" />
<line x1="399" y1="288.3" x2="399" y2="286.4" stroke="#111" stroke-width="1.2" />
<line x1="399" y1="137.8" x2="399" y2="139.7" stroke="#111" stroke-width="1.2" />
<line x1="437" y1="288.3" x2="437" y2="286.4" stroke="#111" stroke-width="1.2" />
<line x1="437" y1="137.8" x2="437" y2="139.7" stroke="#111" stroke-width="1.2" />
<line x1="475" y1="288.3" x2="475" y2="286.4" stroke="#111" stroke-width="1.2" />
<line x1="475" y1="137.8" x2="475" y2="139.7" stroke="#111" stroke-width="1.2" />
<text x="281.3" y="291.7" font-family='"Liberation Sans", sans-serif' font-size="10.5" font-weight="bold" font-style="normal" text-anchor="end" fill="#000" stroke="#000" stroke-width="0.22">0</text>
<text x="281.3" y="254.05" font-family='"Liberation Sans", sans-serif' font-size="10.5" font-weight="bold" font-style="normal" text-anchor="end" fill="#000" stroke="#000" stroke-width="0.22">10</text>
<text x="281.3" y="216.4" font-family='"Liberation Sans", sans-serif' font-size="10.5" font-weight="bold" font-style="normal" text-anchor="end" fill="#000" stroke="#000" stroke-width="0.22">20</text>
<text x="281.3" y="178.75" font-family='"Liberation Sans", sans-serif' font-size="10.5" font-weight="bold" font-style="normal" text-anchor="end" fill="#000" stroke="#000" stroke-width="0.22">30</text>
<text x="304" y="300" font-family='"Liberation Sans", sans-serif' font-size="10.6" font-weight="bold" font-style="normal" text-anchor="middle" fill="#000" stroke="#000" stroke-width="0.22">-200</text>
<text x="342" y="300" font-family='"Liberation Sans", sans-serif' font-size="10.6" font-weight="bold" font-style="normal" text-anchor="middle" fill="#000" stroke="#000" stroke-width="0.22">-100</text>
<text x="380" y="300" font-family='"Liberation Sans", sans-serif' font-size="10.6" font-weight="bold" font-style="normal" text-anchor="middle" fill="#000" stroke="#000" stroke-width="0.22">0</text>
<text x="418" y="300" font-family='"Liberation Sans", sans-serif' font-size="10.6" font-weight="bold" font-style="normal" text-anchor="middle" fill="#000" stroke="#000" stroke-width="0.22">100</text>
<text x="456" y="300" font-family='"Liberation Sans", sans-serif' font-size="10.6" font-weight="bold" font-style="normal" text-anchor="middle" fill="#000" stroke="#000" stroke-width="0.22">200</text>
<text x="288.9" y="156" font-family='"Liberation Serif", serif' font-size="20" font-weight="normal" font-style="normal" text-anchor="start" fill="#000" >(e)</text>
<text x="0" y="0" transform="translate(251,218.6) rotate(-90)" font-family='"Liberation Serif", serif' font-size="12.8" text-anchor="middle" dominant-baseline="central" fill="#000" stroke="#000" stroke-width="0.2"><tspan font-style="italic">R</tspan>&#160;&#160;(M&#937;)</text>
<text x="381.4" y="320.9" font-family='"Liberation Serif", serif' font-size="15.9" font-weight="normal" font-style="normal" text-anchor="middle" fill="#000" stroke="#000" stroke-width="0.2">Voltage&#160;&#160;(mV)</text>
<path d="M547,122.6 L551.6,122.6 L549.3,126 Z" fill="#2a8c8c"/>
<line x1="561.53" y1="46.07" x2="561.53" y2="126.6" stroke="#2a8c8c" stroke-width="1.1" />
<path d="M559.23,44.47 L563.83,44.47 L561.53,47.87 Z" fill="#2a8c8c"/>
<line x1="573.77" y1="94.33" x2="573.77" y2="126.6" stroke="#2a8c8c" stroke-width="1.1" />
<path d="M571.47,92.73 L576.07,92.73 L573.77,96.13 Z" fill="#2a8c8c"/>
<line x1="573.77" y1="126.16" x2="573.77" y2="126.6" stroke="#e030e0" stroke-width="1.3" />
<path d="M571.27,127.96 L576.27,127.96 L573.77,124.16 Z" fill="#e030e0"/>
<line x1="586" y1="124.78" x2="586" y2="126.6" stroke="#e030e0" stroke-width="1.3" />
<path d="M583.5,126.58 L588.5,126.58 L586,122.78 Z" fill="#e030e0"/>
<line x1="598.24" y1="122.13" x2="598.24" y2="126.6" stroke="#e030e0" stroke-width="1.3" />
<path d="M595.74,123.93 L600.74,123.93 L598.24,120.13 Z" fill="#e030e0"/>
<line x1="610.47" y1="117.31" x2="610.47" y2="126.6" stroke="#e030e0" stroke-width="1.3" />
<path d="M607.97,119.11 L612.97,119.11 L610.47,115.31 Z" fill="#e030e0"/>
<line x1="622.7" y1="110.41" x2="622.7" y2="126.6" stroke="#e030e0" stroke-width="1.3" />
<path d="M620.2,112.21 L625.2,112.21 L622.7,108.41 Z" fill="#e030e0"/>
<line x1="634.94" y1="103.52" x2="634.94" y2="126.6" stroke="#e030e0" stroke-width="1.3" />
<path d="M632.44,105.32 L637.44,105.32 L634.94,101.52 Z" fill="#e030e0"/>
<line x1="647.17" y1="90.88" x2="647.17" y2="126.6" stroke="#e030e0" stroke-width="1.3" />
<path d="M644.67,92.68 L649.67,92.68 L647.17,88.88 Z" fill="#e030e0"/>
<line x1="659.41" y1="103.52" x2="659.41" y2="126.6" stroke="#e030e0" stroke-width="1.3" />
<path d="M656.91,105.32 L661.91,105.32 L659.41,101.52 Z" fill="#e030e0"/>
<rect x="521.9" y="11.6" width="143.7" height="115" fill="none" stroke="#111" stroke-width="1.2"/>
<line x1="521.9" y1="126.5" x2="524.4" y2="126.5" stroke="#111" stroke-width="1.2" />
<line x1="665.6" y1="126.5" x2="663.1" y2="126.5" stroke="#111" stroke-width="1.2" />
<line x1="521.9" y1="97.78" x2="524.4" y2="97.78" stroke="#111" stroke-width="1.2" />
<line x1="665.6" y1="97.78" x2="663.1" y2="97.78" stroke="#111" stroke-width="1.2" />
<line x1="521.9" y1="69.05" x2="524.4" y2="69.05" stroke="#111" stroke-width="1.2" />
<line x1="665.6" y1="69.05" x2="663.1" y2="69.05" stroke="#111" stroke-width="1.2" />
<line x1="521.9" y1="40.33" x2="524.4" y2="40.33" stroke="#111" stroke-width="1.2" />
<line x1="665.6" y1="40.33" x2="663.1" y2="40.33" stroke="#111" stroke-width="1.2" />
<line x1="521.9" y1="11.6" x2="524.4" y2="11.6" stroke="#111" stroke-width="1.2" />
<line x1="665.6" y1="11.6" x2="663.1" y2="11.6" stroke="#111" stroke-width="1.2" />
<line x1="521.9" y1="120.75" x2="523.5" y2="120.75" stroke="#111" stroke-width="1.2" />
<line x1="665.6" y1="120.75" x2="664" y2="120.75" stroke="#111" stroke-width="1.2" />
<line x1="521.9" y1="115.01" x2="523.5" y2="115.01" stroke="#111" stroke-width="1.2" />
<line x1="665.6" y1="115.01" x2="664" y2="115.01" stroke="#111" stroke-width="1.2" />
<line x1="521.9" y1="109.27" x2="523.5" y2="109.27" stroke="#111" stroke-width="1.2" />
<line x1="665.6" y1="109.27" x2="664" y2="109.27" stroke="#111" stroke-width="1.2" />
<line x1="521.9" y1="103.52" x2="523.5" y2="103.52" stroke="#111" stroke-width="1.2" />
<line x1="665.6" y1="103.52" x2="664" y2="103.52" stroke="#111" stroke-width="1.2" />
<line x1="521.9" y1="92.03" x2="523.5" y2="92.03" stroke="#111" stroke-width="1.2" />
<line x1="665.6" y1="92.03" x2="664" y2="92.03" stroke="#111" stroke-width="1.2" />
<line x1="521.9" y1="86.28" x2="523.5" y2="86.28" stroke="#111" stroke-width="1.2" />
<line x1="665.6" y1="86.28" x2="664" y2="86.28" stroke="#111" stroke-width="1.2" />
<line x1="521.9" y1="80.54" x2="523.5" y2="80.54" stroke="#111" stroke-width="1.2" />
<line x1="665.6" y1="80.54" x2="664" y2="80.54" stroke="#111" stroke-width="1.2" />
<line x1="521.9" y1="74.8" x2="523.5" y2="74.8" stroke="#111" stroke-width="1.2" />
<line x1="665.6" y1="74.8" x2="664" y2="74.8" stroke="#111" stroke-width="1.2" />
<line x1="521.9" y1="63.3" x2="523.5" y2="63.3" stroke="#111" stroke-width="1.2" />
<line x1="665.6" y1="63.3" x2="664" y2="63.3" stroke="#111" stroke-width="1.2" />
<line x1="521.9" y1="57.56" x2="523.5" y2="57.56" stroke="#111" stroke-width="1.2" />
<line x1="665.6" y1="57.56" x2="664" y2="57.56" stroke="#111" stroke-width="1.2" />
<line x1="521.9" y1="51.81" x2="523.5" y2="51.81" stroke="#111" stroke-width="1.2" />
<line x1="665.6" y1="51.81" x2="664" y2="51.81" stroke="#111" stroke-width="1.2" />
<line x1="521.9" y1="46.07" x2="523.5" y2="46.07" stroke="#111" stroke-width="1.2" />
<line x1="665.6" y1="46.07" x2="664" y2="46.07" stroke="#111" stroke-width="1.2" />
<line x1="521.9" y1="34.58" x2="523.5" y2="34.58" stroke="#111" stroke-width="1.2" />
<line x1="665.6" y1="34.58" x2="664" y2="34.58" stroke="#111" stroke-width="1.2" />
<line x1="521.9" y1="28.83" x2="523.5" y2="28.83" stroke="#111" stroke-width="1.2" />
<line x1="665.6" y1="28.83" x2="664" y2="28.83" stroke="#111" stroke-width="1.2" />
<line x1="521.9" y1="23.09" x2="523.5" y2="23.09" stroke="#111" stroke-width="1.2" />
<line x1="665.6" y1="23.09" x2="664" y2="23.09" stroke="#111" stroke-width="1.2" />
<line x1="521.9" y1="17.34" x2="523.5" y2="17.34" stroke="#111" stroke-width="1.2" />
<line x1="665.6" y1="17.34" x2="664" y2="17.34" stroke="#111" stroke-width="1.2" />
<line x1="524.83" y1="126.6" x2="524.83" y2="125" stroke="#111" stroke-width="1.2" />
<line x1="524.83" y1="11.6" x2="524.83" y2="13.2" stroke="#111" stroke-width="1.2" />
<line x1="537.07" y1="126.6" x2="537.07" y2="125" stroke="#111" stroke-width="1.2" />
<line x1="537.07" y1="11.6" x2="537.07" y2="13.2" stroke="#111" stroke-width="1.2" />
<line x1="549.3" y1="126.6" x2="549.3" y2="124" stroke="#111" stroke-width="1.2" />
<line x1="549.3" y1="11.6" x2="549.3" y2="14.2" stroke="#111" stroke-width="1.2" />
<line x1="561.53" y1="126.6" x2="561.53" y2="125" stroke="#111" stroke-width="1.2" />
<line x1="561.53" y1="11.6" x2="561.53" y2="13.2" stroke="#111" stroke-width="1.2" />
<line x1="573.77" y1="126.6" x2="573.77" y2="125" stroke="#111" stroke-width="1.2" />
<line x1="573.77" y1="11.6" x2="573.77" y2="13.2" stroke="#111" stroke-width="1.2" />
<line x1="586" y1="126.6" x2="586" y2="124" stroke="#111" stroke-width="1.2" />
<line x1="586" y1="11.6" x2="586" y2="14.2" stroke="#111" stroke-width="1.2" />
<line x1="598.24" y1="126.6" x2="598.24" y2="125" stroke="#111" stroke-width="1.2" />
<line x1="598.24" y1="11.6" x2="598.24" y2="13.2" stroke="#111" stroke-width="1.2" />
<line x1="610.47" y1="126.6" x2="610.47" y2="125" stroke="#111" stroke-width="1.2" />
<line x1="610.47" y1="11.6" x2="610.47" y2="13.2" stroke="#111" stroke-width="1.2" />
<line x1="622.7" y1="126.6" x2="622.7" y2="124" stroke="#111" stroke-width="1.2" />
<line x1="622.7" y1="11.6" x2="622.7" y2="14.2" stroke="#111" stroke-width="1.2" />
<line x1="634.94" y1="126.6" x2="634.94" y2="125" stroke="#111" stroke-width="1.2" />
<line x1="634.94" y1="11.6" x2="634.94" y2="13.2" stroke="#111" stroke-width="1.2" />
<line x1="647.17" y1="126.6" x2="647.17" y2="125" stroke="#111" stroke-width="1.2" />
<line x1="647.17" y1="11.6" x2="647.17" y2="13.2" stroke="#111" stroke-width="1.2" />
<line x1="659.41" y1="126.6" x2="659.41" y2="124" stroke="#111" stroke-width="1.2" />
<line x1="659.41" y1="11.6" x2="659.41" y2="14.2" stroke="#111" stroke-width="1.2" />
<text x="518.1" y="129.4" font-family='"Liberation Sans", sans-serif' font-size="8.6" font-weight="bold" font-style="normal" text-anchor="end" fill="#000" stroke="#000" stroke-width="0.22">0</text>
<text x="518.1" y="100.68" font-family='"Liberation Sans", sans-serif' font-size="8.6" font-weight="bold" font-style="normal" text-anchor="end" fill="#000" stroke="#000" stroke-width="0.22">25</text>
<text x="518.1" y="71.95" font-family='"Liberation Sans", sans-serif' font-size="8.6" font-weight="bold" font-style="normal" text-anchor="end" fill="#000" stroke="#000" stroke-width="0.22">50</text>
<text x="518.1" y="43.23" font-family='"Liberation Sans", sans-serif' font-size="8.6" font-weight="bold" font-style="normal" text-anchor="end" fill="#000" stroke="#000" stroke-width="0.22">75</text>
<text x="518.1" y="14.5" font-family='"Liberation Sans", sans-serif' font-size="8.6" font-weight="bold" font-style="normal" text-anchor="end" fill="#000" stroke="#000" stroke-width="0.22">100</text>
<text x="549.3" y="137.7" font-family='"Liberation Sans", sans-serif' font-size="8.3" font-weight="bold" font-style="normal" text-anchor="middle" fill="#000" stroke="#000" stroke-width="0.22">1.2</text>
<text x="586" y="137.7" font-family='"Liberation Sans", sans-serif' font-size="8.3" font-weight="bold" font-style="normal" text-anchor="middle" fill="#000" stroke="#000" stroke-width="0.22">1.8</text>
<text x="622.7" y="137.7" font-family='"Liberation Sans", sans-serif' font-size="8.3" font-weight="bold" font-style="normal" text-anchor="middle" fill="#000" stroke="#000" stroke-width="0.22">2.4</text>
<text x="659.41" y="137.7" font-family='"Liberation Sans", sans-serif' font-size="8.3" font-weight="bold" font-style="normal" text-anchor="middle" fill="#000" stroke="#000" stroke-width="0.22">3.0</text>
<text x="549.4" y="9" font-family='"Liberation Sans", sans-serif' font-size="6.8" font-weight="bold" font-style="normal" text-anchor="middle" fill="#e02020" stroke="#e02020" stroke-width="0.22">1</text>
<text x="561.8" y="9" font-family='"Liberation Sans", sans-serif' font-size="6.8" font-weight="bold" font-style="normal" text-anchor="middle" fill="#e02020" stroke="#e02020" stroke-width="0.22">2</text>
<text x="574.8" y="9" font-family='"Liberation Sans", sans-serif' font-size="6.8" font-weight="bold" font-style="normal" text-anchor="middle" fill="#e02020" stroke="#e02020" stroke-width="0.22">3</text>
<text x="586.2" y="9" font-family='"Liberation Sans", sans-serif' font-size="6.8" font-weight="bold" font-style="normal" text-anchor="middle" fill="#e02020" stroke="#e02020" stroke-width="0.22">4</text>
<text x="599.6" y="9" font-family='"Liberation Sans", sans-serif' font-size="6.8" font-weight="bold" font-style="normal" text-anchor="middle" fill="#e02020" stroke="#e02020" stroke-width="0.22">5</text>
<text x="611.3" y="9" font-family='"Liberation Sans", sans-serif' font-size="6.8" font-weight="bold" font-style="normal" text-anchor="middle" fill="#e02020" stroke="#e02020" stroke-width="0.22">6</text>
<text x="623.9" y="9" font-family='"Liberation Sans", sans-serif' font-size="6.8" font-weight="bold" font-style="normal" text-anchor="middle" fill="#e02020" stroke="#e02020" stroke-width="0.22">7</text>
<text x="636.8" y="9" font-family='"Liberation Sans", sans-serif' font-size="6.8" font-weight="bold" font-style="normal" text-anchor="middle" fill="#e02020" stroke="#e02020" stroke-width="0.22">8</text>
<text x="648.7" y="9" font-family='"Liberation Sans", sans-serif' font-size="6.8" font-weight="bold" font-style="normal" text-anchor="middle" fill="#e02020" stroke="#e02020" stroke-width="0.22">9</text>
<text x="660.9" y="9" font-family='"Liberation Sans", sans-serif' font-size="6.8" font-weight="bold" font-style="normal" text-anchor="middle" fill="#e02020" stroke="#e02020" stroke-width="0.22">10</text>
<text x="0" y="0" transform="translate(667.2,9.9) skewX(-14)" font-family='"Liberation Serif", serif' font-size="12" font-style="italic" fill="#e02020">f</text>
<text x="524.9" y="28.1" font-family='"Liberation Serif", serif' font-size="19" font-weight="normal" font-style="normal" text-anchor="start" fill="#000" >(c)</text>
<text x="0" y="0" transform="translate(497.6,108.9) rotate(-90)" font-family='"Liberation Serif", serif' font-size="13.4" font-weight="normal" textLength="80.0" lengthAdjust="spacingAndGlyphs" fill="#000" stroke="#000" stroke-width="0.15">Number of NPs</text>
<text x="593.7" y="154.2" font-family='"Liberation Serif", serif' font-size="12.8" text-anchor="middle" fill="#000"><tspan font-style="italic">d</tspan> (nm)</text>
<path d="M598.2,49.8 L602.6,49.8 L600.4,53.2 Z" fill="#2a8c8c"/>
<path d="M598.0,65.2 L602.8,65.2 L600.4,61.6 Z" fill="#e030e0"/>
<text x="611" y="53.4" font-family='"Liberation Serif", serif' font-size="11.3" font-style="italic" fill="#000">d</text>
<text x="617.6" y="56.3" font-family='"Liberation Serif", serif' font-size="6.6" fill="#000" textLength="6.8" lengthAdjust="spacingAndGlyphs">av</text>
<text x="0" y="0" transform="translate(627.9,53.4) scale(1.3,1)" font-family='"Liberation Serif", serif' font-size="11.3" fill="#000">=</text>
<text x="637.7" y="53.4" font-family='"Liberation Serif", serif' font-size="11.3" fill="#000" textLength="20.6" lengthAdjust="spacingAndGlyphs">1.45</text>
<text x="611" y="67.8" font-family='"Liberation Serif", serif' font-size="11.3" font-style="italic" fill="#000">d</text>
<text x="617.6" y="70.7" font-family='"Liberation Serif", serif' font-size="6.6" fill="#000" textLength="6.8" lengthAdjust="spacingAndGlyphs">av</text>
<text x="0" y="0" transform="translate(627.9,67.8) scale(1.3,1)" font-family='"Liberation Serif", serif' font-size="11.3" fill="#000">=</text>
<text x="637.7" y="67.8" font-family='"Liberation Serif", serif' font-size="11.3" fill="#000" textLength="20.6" lengthAdjust="spacingAndGlyphs">2.63</text>
<polyline points="516,203.4 532.5,208.9 551,214.4 565.9,219.1 575,225.6 582.5,233.9 588,242.2 592.6,249.4 596.5,242 601,233.5 608.5,225.5 616,220 627,216.3 638,212.6 651,208.9 669,203.3" fill="none" stroke="#1a8c8c" stroke-width="1.4" stroke-dasharray="4.5 1.6 1.4 1.7" stroke-linejoin="round" />
<polyline points="516,214.6 518.86,214.7 523.02,214.84 527.34,215.05 530.7,215.4 532.67,215.88 533.91,216.47 534.86,217.18 536,218 537.34,219.03 538.66,220.24 540.1,221.43 541.8,222.4 543.64,223.11 545.61,223.65 547.97,224.07 551,224.4 555.06,224.54 559.89,224.52 564.91,224.53 569.5,224.8 573.64,225.47 577.6,226.41 581.24,227.36 584.4,228.1 586.72,228.61 588.38,229.01 590.08,229.23 592.5,229.2 595.97,228.81 600.08,228.14 604.4,227.37 608.5,226.7 612.33,226.15 616.09,225.62 619.75,225.16 623.3,224.8 626.81,224.63 630.26,224.61 633.49,224.58 636.3,224.4 638.55,224.07 640.36,223.67 641.99,223.1 643.7,222.3 645.48,221.09 647.23,219.56 649.03,218.02 651,216.8 653.22,215.97 655.62,215.38 658.06,214.94 660.4,214.6 662.81,214.38 665.29,214.31 667.47,214.31 669,214.3" fill="none" stroke="#7a1010" stroke-width="1.3" stroke-dasharray="2.6 1.6" stroke-linejoin="round" />
<polyline points="516,222.39 516.69,222.77 517.57,222.58 518.61,222.88 519.78,222.93 521.04,222.28 522.38,222.25 523.74,223.26 525.11,222.6 526.45,222.6 527.74,223.54 528.93,222.94 530,223.4 530.99,222.99 531.94,223.2 532.88,222.63 533.78,223.22 534.65,223.51 535.5,223.1 536.32,223.38 537.11,223.32 537.88,222.62 538.61,223.49 539.32,223.34 540,223.06 540.61,222.83 541.14,223.94 541.59,223.61 542,224.05 542.38,224.4 542.75,224.36 543.14,224.77 543.56,224.29 544.03,224.91 544.58,224.59 545.23,225.27 546,225.25 546.88,224.35 547.86,224.41 548.91,224.51 550.04,225.4 551.22,224.74 552.44,224.93 553.69,224.49 554.96,224.66 556.24,224.43 557.52,224.28 558.77,224.44 560,224.3 561.23,224.52 562.5,224.05 563.8,224.12 565.11,223.79 566.43,223.69 567.75,223.03 569.05,222.14 570.33,222.69 571.58,222.54 572.78,222.19 573.92,221.53 575,221.46 576.02,220.62 576.98,221.13 577.91,220.58 578.8,219.99 579.65,219.49 580.47,220.21 581.26,220.15 582.04,218.85 582.79,219.5 583.54,218.84 584.27,218.35 585,218.35 585.71,218.77 586.39,218.74 587.05,217.59 587.69,218.14 588.3,217.32 588.91,218.01 589.5,217.44 590.09,218.01 590.68,218.06 591.28,217.44 591.88,218 592.5,217.17 593.09,216.91 593.61,217.57 594.08,216.94 594.54,217.21 594.99,217.56 595.47,217.91 595.99,217.49 596.57,217.5 597.25,218.65 598.03,218.16 598.94,219.13 600,219.28 601.24,218.9 602.63,219.3 604.17,219.7 605.81,220.2 607.55,220.52 609.34,220.86 611.18,221.32 613.02,222.08 614.85,221.92 616.64,222.16 618.36,222.81 620,222.49 621.59,222.79 623.19,223.81 624.78,223.46 626.37,223.67 627.95,223.19 629.5,223.82 631.03,224.14 632.52,223.58 633.97,224.39 635.37,224.48 636.72,223.84 638,224.55 639.19,224.36 640.27,224.58 641.26,224.12 642.19,224.46 643.07,224.39 643.94,223.41 644.81,223.33 645.7,223.93 646.65,224.15 647.66,223.18 648.77,223.33 650,223.41 651.4,223.02 652.98,223.01 654.7,222.9 656.52,222.91 658.38,223.14 660.25,222.74 662.08,222.8 663.81,223.23 665.42,222.31 666.85,222.93 668.06,223.1 669,222.57" fill="none" stroke="#e82020" stroke-width="1.5" stroke-linejoin="round" />
<rect x="516" y="165.7" width="153" height="123.9" fill="none" stroke="#111" stroke-width="1.2"/>
<line x1="516" y1="289.6" x2="518.6" y2="289.6" stroke="#111" stroke-width="1.2" />
<line x1="669" y1="289.6" x2="666.4" y2="289.6" stroke="#111" stroke-width="1.2" />
<line x1="516" y1="258.62" x2="518.6" y2="258.62" stroke="#111" stroke-width="1.2" />
<line x1="669" y1="258.62" x2="666.4" y2="258.62" stroke="#111" stroke-width="1.2" />
<line x1="516" y1="227.65" x2="518.6" y2="227.65" stroke="#111" stroke-width="1.2" />
<line x1="669" y1="227.65" x2="666.4" y2="227.65" stroke="#111" stroke-width="1.2" />
<line x1="516" y1="196.68" x2="518.6" y2="196.68" stroke="#111" stroke-width="1.2" />
<line x1="669" y1="196.68" x2="666.4" y2="196.68" stroke="#111" stroke-width="1.2" />
<line x1="516" y1="165.7" x2="518.6" y2="165.7" stroke="#111" stroke-width="1.2" />
<line x1="669" y1="165.7" x2="666.4" y2="165.7" stroke="#111" stroke-width="1.2" />
<line x1="516" y1="283.41" x2="517.6" y2="283.41" stroke="#111" stroke-width="1.2" />
<line x1="669" y1="283.41" x2="667.4" y2="283.41" stroke="#111" stroke-width="1.2" />
<line x1="516" y1="277.21" x2="517.6" y2="277.21" stroke="#111" stroke-width="1.2" />
<line x1="669" y1="277.21" x2="667.4" y2="277.21" stroke="#111" stroke-width="1.2" />
<line x1="516" y1="271.02" x2="517.6" y2="271.02" stroke="#111" stroke-width="1.2" />
<line x1="669" y1="271.02" x2="667.4" y2="271.02" stroke="#111" stroke-width="1.2" />
<line x1="516" y1="264.82" x2="517.6" y2="264.82" stroke="#111" stroke-width="1.2" />
<line x1="669" y1="264.82" x2="667.4" y2="264.82" stroke="#111" stroke-width="1.2" />
<line x1="516" y1="252.43" x2="517.6" y2="252.43" stroke="#111" stroke-width="1.2" />
<line x1="669" y1="252.43" x2="667.4" y2="252.43" stroke="#111" stroke-width="1.2" />
<line x1="516" y1="246.24" x2="517.6" y2="246.24" stroke="#111" stroke-width="1.2" />
<line x1="669" y1="246.24" x2="667.4" y2="246.24" stroke="#111" stroke-width="1.2" />
<line x1="516" y1="240.04" x2="517.6" y2="240.04" stroke="#111" stroke-width="1.2" />
<line x1="669" y1="240.04" x2="667.4" y2="240.04" stroke="#111" stroke-width="1.2" />
<line x1="516" y1="233.85" x2="517.6" y2="233.85" stroke="#111" stroke-width="1.2" />
<line x1="669" y1="233.85" x2="667.4" y2="233.85" stroke="#111" stroke-width="1.2" />
<line x1="516" y1="221.46" x2="517.6" y2="221.46" stroke="#111" stroke-width="1.2" />
<line x1="669" y1="221.46" x2="667.4" y2="221.46" stroke="#111" stroke-width="1.2" />
<line x1="516" y1="215.26" x2="517.6" y2="215.26" stroke="#111" stroke-width="1.2" />
<line x1="669" y1="215.26" x2="667.4" y2="215.26" stroke="#111" stroke-width="1.2" />
<line x1="516" y1="209.07" x2="517.6" y2="209.07" stroke="#111" stroke-width="1.2" />
<line x1="669" y1="209.07" x2="667.4" y2="209.07" stroke="#111" stroke-width="1.2" />
<line x1="516" y1="202.87" x2="517.6" y2="202.87" stroke="#111" stroke-width="1.2" />
<line x1="669" y1="202.87" x2="667.4" y2="202.87" stroke="#111" stroke-width="1.2" />
<line x1="516" y1="190.48" x2="517.6" y2="190.48" stroke="#111" stroke-width="1.2" />
<line x1="669" y1="190.48" x2="667.4" y2="190.48" stroke="#111" stroke-width="1.2" />
<line x1="516" y1="184.29" x2="517.6" y2="184.29" stroke="#111" stroke-width="1.2" />
<line x1="669" y1="184.29" x2="667.4" y2="184.29" stroke="#111" stroke-width="1.2" />
<line x1="516" y1="178.09" x2="517.6" y2="178.09" stroke="#111" stroke-width="1.2" />
<line x1="669" y1="178.09" x2="667.4" y2="178.09" stroke="#111" stroke-width="1.2" />
<line x1="516" y1="171.9" x2="517.6" y2="171.9" stroke="#111" stroke-width="1.2" />
<line x1="669" y1="171.9" x2="667.4" y2="171.9" stroke="#111" stroke-width="1.2" />
<line x1="531.3" y1="289.6" x2="531.3" y2="287" stroke="#111" stroke-width="1.2" />
<line x1="531.3" y1="165.7" x2="531.3" y2="168.3" stroke="#111" stroke-width="1.2" />
<line x1="561.9" y1="289.6" x2="561.9" y2="287" stroke="#111" stroke-width="1.2" />
<line x1="561.9" y1="165.7" x2="561.9" y2="168.3" stroke="#111" stroke-width="1.2" />
<line x1="592.5" y1="289.6" x2="592.5" y2="287" stroke="#111" stroke-width="1.2" />
<line x1="592.5" y1="165.7" x2="592.5" y2="168.3" stroke="#111" stroke-width="1.2" />
<line x1="623.1" y1="289.6" x2="623.1" y2="287" stroke="#111" stroke-width="1.2" />
<line x1="623.1" y1="165.7" x2="623.1" y2="168.3" stroke="#111" stroke-width="1.2" />
<line x1="653.7" y1="289.6" x2="653.7" y2="287" stroke="#111" stroke-width="1.2" />
<line x1="653.7" y1="165.7" x2="653.7" y2="168.3" stroke="#111" stroke-width="1.2" />
<line x1="516" y1="289.6" x2="516" y2="288" stroke="#111" stroke-width="1.2" />
<line x1="516" y1="165.7" x2="516" y2="167.3" stroke="#111" stroke-width="1.2" />
<line x1="546.6" y1="289.6" x2="546.6" y2="288" stroke="#111" stroke-width="1.2" />
<line x1="546.6" y1="165.7" x2="546.6" y2="167.3" stroke="#111" stroke-width="1.2" />
<line x1="577.2" y1="289.6" x2="577.2" y2="288" stroke="#111" stroke-width="1.2" />
<line x1="577.2" y1="165.7" x2="577.2" y2="167.3" stroke="#111" stroke-width="1.2" />
<line x1="607.8" y1="289.6" x2="607.8" y2="288" stroke="#111" stroke-width="1.2" />
<line x1="607.8" y1="165.7" x2="607.8" y2="167.3" stroke="#111" stroke-width="1.2" />
<line x1="638.4" y1="289.6" x2="638.4" y2="288" stroke="#111" stroke-width="1.2" />
<line x1="638.4" y1="165.7" x2="638.4" y2="167.3" stroke="#111" stroke-width="1.2" />
<line x1="669" y1="289.6" x2="669" y2="288" stroke="#111" stroke-width="1.2" />
<line x1="669" y1="165.7" x2="669" y2="167.3" stroke="#111" stroke-width="1.2" />
<text x="513.3" y="292.5" font-family='"Liberation Sans", sans-serif' font-size="9.9" font-weight="bold" font-style="normal" text-anchor="end" fill="#000" stroke="#000" stroke-width="0.22">10</text>
<text x="513.3" y="261.52" font-family='"Liberation Sans", sans-serif' font-size="9.9" font-weight="bold" font-style="normal" text-anchor="end" fill="#000" stroke="#000" stroke-width="0.22">15</text>
<text x="513.3" y="230.55" font-family='"Liberation Sans", sans-serif' font-size="9.9" font-weight="bold" font-style="normal" text-anchor="end" fill="#000" stroke="#000" stroke-width="0.22">20</text>
<text x="513.3" y="199.58" font-family='"Liberation Sans", sans-serif' font-size="9.9" font-weight="bold" font-style="normal" text-anchor="end" fill="#000" stroke="#000" stroke-width="0.22">25</text>
<text x="513.3" y="168.6" font-family='"Liberation Sans", sans-serif' font-size="9.9" font-weight="bold" font-style="normal" text-anchor="end" fill="#000" stroke="#000" stroke-width="0.22">30</text>
<text x="531.3" y="299.7" font-family='"Liberation Sans", sans-serif' font-size="9.9" font-weight="bold" font-style="normal" text-anchor="middle" fill="#000" stroke="#000" stroke-width="0.22">-200</text>
<text x="561.9" y="299.7" font-family='"Liberation Sans", sans-serif' font-size="9.9" font-weight="bold" font-style="normal" text-anchor="middle" fill="#000" stroke="#000" stroke-width="0.22">-100</text>
<text x="592.5" y="299.7" font-family='"Liberation Sans", sans-serif' font-size="9.9" font-weight="bold" font-style="normal" text-anchor="middle" fill="#000" stroke="#000" stroke-width="0.22">0</text>
<text x="623.1" y="299.7" font-family='"Liberation Sans", sans-serif' font-size="9.9" font-weight="bold" font-style="normal" text-anchor="middle" fill="#000" stroke="#000" stroke-width="0.22">100</text>
<text x="653.7" y="299.7" font-family='"Liberation Sans", sans-serif' font-size="9.9" font-weight="bold" font-style="normal" text-anchor="middle" fill="#000" stroke="#000" stroke-width="0.22">200</text>
<text x="518.4" y="183.5" font-family='"Liberation Serif", serif' font-size="19" font-weight="normal" font-style="normal" text-anchor="start" fill="#000" >(f)</text>
<text x="0" y="0" transform="translate(493.2,252.2) rotate(-90)" font-family='"Liberation Serif", serif' font-size="13.1" font-weight="normal" textLength="24.5" lengthAdjust="spacingAndGlyphs" fill="#000" stroke="#000" stroke-width="0.15">TMR</text>
<text x="0" y="0" transform="translate(493.2,224.7) rotate(-90)" font-family='"Liberation Serif", serif' font-size="13.1" font-weight="normal" textLength="18.6" lengthAdjust="spacingAndGlyphs" fill="#000" stroke="#000" stroke-width="0.15">(%)</text>
<text x="593.1" y="318.5" font-family='"Liberation Serif", serif' font-size="12.1" font-weight="normal" font-style="normal" text-anchor="middle" fill="#000" stroke="#000" stroke-width="0.2">Voltage (mV)</text>
<polyline points="562.2,178.6 583,178.6" fill="none" stroke="#1a8c8c" stroke-width="1.4" stroke-dasharray="4.5 1.6 1.4 1.7" stroke-linejoin="round" />
<polyline points="562.2,190.2 583,190.2" fill="none" stroke="#7a1010" stroke-width="1.3" stroke-dasharray="2.6 1.6" stroke-linejoin="round" />
<polyline points="562.2,201.6 583,201.6" fill="none" stroke="#e03030" stroke-width="2.0" stroke-linejoin="round" />
<text x="589.6" y="181.9" font-family='"Liberation Serif", serif' font-size="9" fill="#000"><tspan font-style="italic">T</tspan> = 0.25 K</text>
<text x="589.6" y="193.4" font-family='"Liberation Serif", serif' font-size="9" fill="#000"><tspan font-style="italic">T</tspan> = 100 K</text>
<text x="589.6" y="205.0" font-family='"Liberation Serif", serif' font-size="9" fill="#000"><tspan font-style="italic">T</tspan> = 300 K</text>
<text x="561.1" y="269.8" font-family='"Liberation Serif", serif' font-size="10.9" font-style="italic" fill="#000">d</text>
<text x="568.1" y="272.4" font-family='"Liberation Serif", serif' font-size="6.2" fill="#000" textLength="5.4" lengthAdjust="spacingAndGlyphs">av</text>
<text x="0" y="0" transform="translate(577.0,269.8) scale(1.25,1)" font-family='"Liberation Serif", serif' font-size="10.9" fill="#000">=</text>
<text x="586.0" y="269.8" font-family='"Liberation Serif", serif' font-size="10.9" fill="#000" textLength="36.3" lengthAdjust="spacingAndGlyphs">1.45 nm</text>
</svg>
</body></html>
